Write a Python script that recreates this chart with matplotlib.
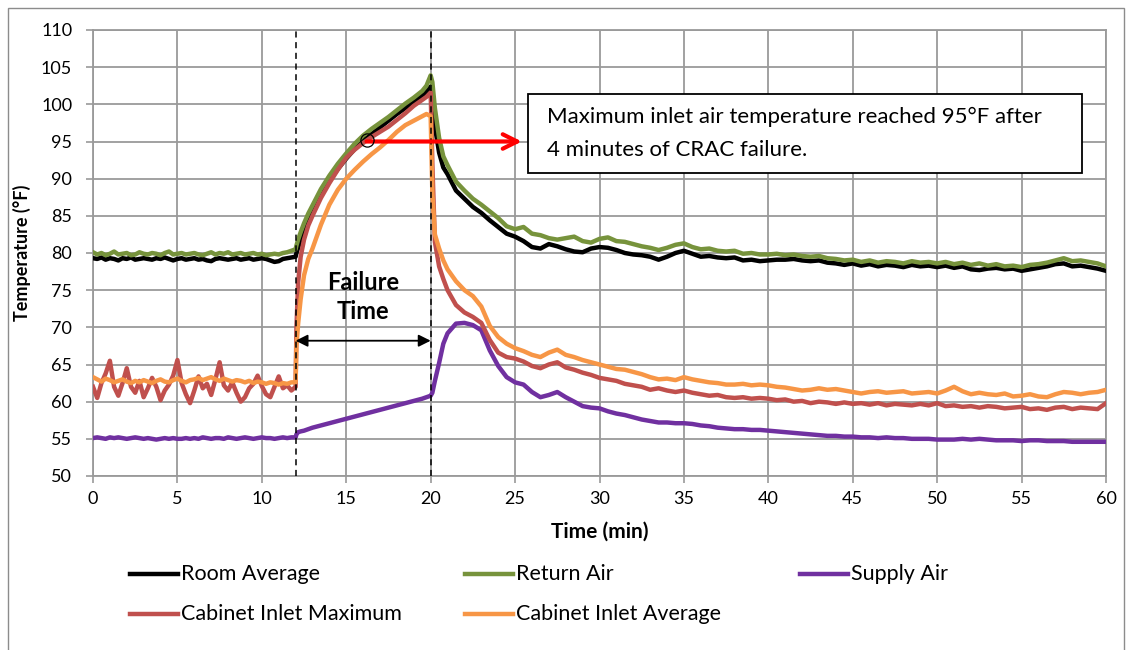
import matplotlib
matplotlib.use("Agg")
import matplotlib.pyplot as plt
import numpy as np
from matplotlib.patches import Rectangle
from matplotlib.lines import Line2D

plt.rcParams['font.family'] = ['Lato', 'DejaVu Sans']

# time axis (min): dense before the failure, extra samples around the two steps
minutes = np.concatenate([
    np.arange(0, 12, 0.25),
    [12.0, 12.05, 12.15, 12.3, 12.5, 12.75],
    np.arange(13, 19.75, 0.5),
    [19.75, 20.0, 20.1, 20.25, 20.5, 20.75],
    np.arange(21, 60.25, 0.5),
])

room_avg = [
    79.3, 79.2, 79.4, 79.1, 79.3, 79.2, 79.0, 79.3, 79.2, 79.4, 79.1, 79.2,
    79.3, 79.2, 79.1, 79.3, 79.2, 79.4, 79.2, 79.0, 79.2, 79.3, 79.1, 79.2,
    79.3, 79.1, 79.2, 79.0, 78.9, 79.2, 79.3, 79.2, 79.1, 79.2, 79.3, 79.1,
    79.2, 79.3, 79.1, 79.2, 79.3, 79.2, 79.0, 78.8, 78.9, 79.2, 79.3, 79.4,
    79.5, 80.0, 80.7, 81.9, 83.3, 84.7,
    85.8, 87.9, 89.7, 91.3, 92.7, 94.0, 95.1, 96.0, 96.9, 97.8, 98.7, 99.5, 100.3, 101.2,
    101.7, 102.4, 100.5, 97.0, 93.5, 91.5,
    90.6, 88.4, 87.3, 86.2, 85.4, 84.4, 83.5, 82.6, 82.2, 81.6,
    80.8, 80.6, 81.2, 80.9, 80.5, 80.2, 80.1, 80.6, 80.8, 80.7,
    80.4, 80.0, 79.8, 79.7, 79.5, 79.1, 79.5, 80.0, 80.3, 79.9,
    79.5, 79.6, 79.4, 79.3, 79.4, 79.0, 79.1, 78.9, 79.0, 79.1,
    79.1, 79.2, 79.0, 78.9, 79.0, 78.7, 78.6, 78.4, 78.6, 78.3,
    78.5, 78.2, 78.4, 78.3, 78.1, 78.4, 78.2, 78.3, 78.1, 78.3,
    78.0, 78.2, 77.8, 77.7, 77.9, 78.0, 77.8, 77.9, 77.6, 77.8,
    78.0, 78.2, 78.5, 78.6, 78.2, 78.3, 78.1, 77.9, 77.6,
]

return_air = [
    80.1, 79.8, 80.0, 79.7, 79.9, 80.2, 79.8, 79.9, 80.0, 79.7, 79.8, 80.1,
    79.9, 79.8, 80.0, 79.9, 79.7, 80.0, 80.2, 79.8, 79.9, 80.0, 79.8, 79.9,
    80.0, 79.8, 79.7, 79.9, 80.1, 79.8, 80.0, 79.9, 80.1, 79.8, 79.9, 80.0,
    79.8, 79.9, 80.0, 79.8, 79.9, 79.7, 79.8, 79.9, 79.8, 80.0, 80.1, 80.3,
    80.5, 81.0, 81.8, 82.8, 84.0, 85.3,
    86.4, 88.6, 90.4, 92.0, 93.4, 94.7, 95.8, 96.7, 97.5, 98.3, 99.2, 100.1, 100.9, 101.8,
    102.5, 103.9, 103.0, 99.5, 95.5, 93.0,
    91.8, 89.6, 88.4, 87.3, 86.5, 85.6, 84.7, 83.6, 83.2, 83.5,
    82.6, 82.4, 82.0, 81.8, 82.0, 82.2, 81.6, 81.4, 81.9, 82.1,
    81.6, 81.5, 81.2, 80.9, 80.7, 80.4, 80.7, 81.1, 81.3, 80.8,
    80.5, 80.6, 80.3, 80.2, 80.3, 79.9, 80.0, 79.8, 79.8, 79.9,
    79.7, 79.8, 79.6, 79.5, 79.6, 79.3, 79.2, 79.0, 79.1, 78.8,
    79.0, 78.7, 78.9, 78.8, 78.6, 78.9, 78.7, 78.8, 78.6, 78.8,
    78.5, 78.7, 78.4, 78.6, 78.3, 78.5, 78.2, 78.3, 78.1, 78.4,
    78.5, 78.7, 79.0, 79.3, 78.9, 79.0, 78.8, 78.6, 78.2,
]

supply_air = [
    55.1, 55.2, 55.1, 55.0, 55.2, 55.1, 55.2, 55.1, 55.0, 55.1, 55.2, 55.1,
    55.0, 55.1, 55.0, 54.9, 55.0, 55.1, 55.0, 55.1, 55.0, 55.0, 55.1, 55.0,
    55.1, 55.0, 55.2, 55.1, 55.0, 55.1, 55.1, 55.0, 55.2, 55.1, 55.0, 55.1,
    55.2, 55.1, 55.0, 55.1, 55.2, 55.1, 55.1, 55.0, 55.1, 55.2, 55.1, 55.2,
    55.2, 55.6, 55.9, 56.0, 56.1, 56.3,
    56.5, 56.8, 57.1, 57.4, 57.7, 58.0, 58.3, 58.6, 58.9, 59.2, 59.5, 59.8, 60.1, 60.4,
    60.6, 60.8, 61.2, 62.8, 65.2, 67.8,
    69.2, 70.5, 70.6, 70.3, 69.6, 66.9, 64.8, 63.3, 62.6, 62.3,
    61.3, 60.6, 60.9, 61.3, 60.6, 60.0, 59.4, 59.2, 59.1, 58.7,
    58.4, 58.2, 57.9, 57.6, 57.4, 57.2, 57.2, 57.1, 57.1, 57.0,
    56.8, 56.7, 56.5, 56.4, 56.3, 56.3, 56.2, 56.2, 56.1, 56.0,
    55.9, 55.8, 55.7, 55.6, 55.5, 55.4, 55.4, 55.3, 55.3, 55.2,
    55.2, 55.1, 55.2, 55.1, 55.1, 55.0, 55.0, 55.0, 54.9, 54.9,
    54.9, 55.0, 54.9, 55.0, 54.9, 54.8, 54.8, 54.8, 54.7, 54.8,
    54.8, 54.7, 54.7, 54.7, 54.6, 54.6, 54.6, 54.6, 54.6,
]

cab_inlet_max = [
    62.0, 60.5, 62.5, 63.8, 65.5, 62.0, 60.8, 62.5, 64.5, 62.0, 61.2, 62.8,
    60.6, 61.8, 63.2, 62.0, 60.2, 61.5, 62.3, 63.5, 65.6, 62.5, 61.0, 59.8,
    61.5, 63.4, 61.8, 62.4, 60.9, 63.0, 65.3, 62.2, 61.5, 62.6, 61.2, 60.0,
    60.6, 61.8, 62.4, 63.5, 62.1, 61.0, 60.6, 62.0, 63.4, 61.8, 62.2, 61.5,
    62.0, 70.0, 76.0, 79.5, 81.8, 83.7,
    85.0, 87.4, 89.4, 91.2, 92.8, 93.9, 94.8, 95.6, 96.3, 97.0, 97.9, 98.8, 99.8, 100.6,
    101.0, 101.6, 92.0, 81.5, 78.2, 76.5,
    75.0, 73.0, 72.0, 71.4, 70.6, 68.3, 66.6, 66.0, 65.8, 65.4,
    64.8, 64.5, 65.0, 65.3, 64.6, 64.3, 63.9, 63.6, 63.2, 63.0,
    62.8, 62.4, 62.2, 62.0, 61.6, 61.8, 61.5, 61.3, 61.5, 61.2,
    61.0, 60.8, 60.9, 60.6, 60.5, 60.6, 60.4, 60.5, 60.4, 60.2,
    60.3, 60.0, 60.1, 59.8, 60.0, 59.9, 59.7, 59.9, 59.7, 59.8,
    59.6, 59.8, 59.5, 59.7, 59.6, 59.5, 59.7, 59.5, 59.8, 59.4,
    59.5, 59.3, 59.4, 59.2, 59.4, 59.3, 59.1, 59.2, 59.3, 59.0,
    59.1, 58.9, 59.2, 59.3, 59.0, 59.2, 59.1, 59.0, 59.8,
]

cab_inlet_avg = [
    63.3, 63.0, 62.7, 63.1, 62.9, 62.6, 62.8, 63.0, 62.7, 62.5, 62.8, 62.6,
    62.9, 62.7, 62.5, 62.8, 63.0, 62.7, 62.6, 62.9, 63.1, 62.8, 62.6, 62.9,
    63.0, 63.2, 62.9, 63.1, 63.3, 63.0, 62.8, 63.1, 62.9, 62.7, 62.9, 62.8,
    62.6, 62.8, 62.5, 62.7, 62.6, 62.4, 62.6, 62.5, 62.3, 62.5, 62.4, 62.6,
    62.6, 67.5, 70.5, 73.8, 77.0, 79.2,
    80.6, 83.8, 86.5, 88.5, 90.0, 91.2, 92.3, 93.3, 94.2, 95.2, 96.3, 97.2, 97.8, 98.4,
    98.7, 98.4, 88.0, 82.5, 80.6, 79.0,
    77.8, 76.2, 75.0, 74.2, 72.8, 70.2, 68.7, 67.8, 67.2, 66.8,
    66.3, 66.0, 66.6, 67.0, 66.3, 66.0, 65.6, 65.3, 65.0, 64.7,
    64.4, 64.3, 64.0, 63.7, 63.3, 63.0, 63.1, 62.9, 63.3, 63.0,
    62.8, 62.6, 62.5, 62.3, 62.3, 62.4, 62.2, 62.3, 62.2, 62.0,
    61.9, 61.7, 61.5, 61.6, 61.8, 61.6, 61.7, 61.5, 61.3, 61.1,
    61.3, 61.4, 61.2, 61.3, 61.4, 61.1, 61.2, 61.3, 61.1, 61.5,
    62.0, 61.4, 61.0, 61.2, 61.0, 60.9, 61.1, 60.7, 60.8, 61.0,
    60.7, 60.6, 61.0, 61.3, 61.2, 61.0, 61.2, 61.3, 61.6,
]

series = [
    ("Room Average", room_avg, "#000000"),
    ("Return Air", return_air, "#77933C"),
    ("Supply Air", supply_air, "#7030A0"),
    ("Cabinet Inlet Maximum", cab_inlet_max, "#C0504D"),
    ("Cabinet Inlet Average", cab_inlet_avg, "#F79646"),
]

fig = plt.figure(figsize=(11.3, 6.5), dpi=100)
ax = fig.add_axes([93 / 1130, 1 - 476 / 650, 1013 / 1130, 446 / 650])

grid_c = "#9a9a9a"
ax.set_xlim(0, 60)
ax.set_ylim(50, 110)
ax.set_xticks(np.arange(0, 61, 5))
ax.set_yticks(np.arange(50, 111, 5))
ax.grid(True, color=grid_c, lw=1.3)
ax.set_axisbelow(True)
for s in ax.spines.values():
    s.set_color(grid_c)
    s.set_linewidth(1.3)
ax.tick_params(axis="y", length=5, width=1.2, color=grid_c, pad=10, labelsize=13)
ax.tick_params(axis="x", length=5, width=1.2, color=grid_c, pad=6, labelsize=13)

for name, vals, col in series:
    ax.plot(minutes, vals, color=col, lw=3.2, solid_joinstyle="round", zorder=3)

# failure window
for t in (12, 20):
    ax.axvline(t, color="black", lw=1.1, ls=(0, (4, 3)), zorder=4)
ax.annotate("", xy=(12, 68.2), xytext=(20, 68.2),
            arrowprops=dict(arrowstyle="<|-|>", color="black", lw=1.3,
                            mutation_scale=18, shrinkA=0, shrinkB=0), zorder=5)
ax.text(16, 76.0, "Failure", ha="center", va="center", fontsize=17, fontweight="bold", zorder=5)
ax.text(16, 72.1, "Time", ha="center", va="center", fontsize=17, fontweight="bold", zorder=5)

# 95F annotation
ax.annotate("", xy=(25.4, 95.0), xytext=(16.2, 95.0),
            arrowprops=dict(arrowstyle="->", color="#ff0000", lw=3,
                            mutation_scale=26, shrinkA=0, shrinkB=0), zorder=5)
ax.plot([16.2], [95.2], marker="o", ms=9.5, mfc="none", mec="black", mew=0.9, zorder=6)
ax.add_patch(Rectangle((25.75, 90.75), 32.8, 10.65, facecolor="white",
                       edgecolor="black", lw=1.3, zorder=6))
ax.text(26.9, 98.3, "Maximum inlet air temperature reached 95°F after",
        ha="left", va="center", fontsize=16, zorder=7)
ax.text(26.9, 93.85, "4 minutes of CRAC failure.",
        ha="left", va="center", fontsize=16, zorder=7)

ax.set_xlabel("Time (min)", fontsize=15, fontweight="bold", labelpad=10)
ax.set_ylabel("Temperature (°F)", fontsize=13, fontweight="bold", labelpad=7)

# legend laid out like the spreadsheet: 3 columns, 2 rows
cols_px = [130, 465, 800]
rows_px = [574, 614]
for i, (name, vals, col) in enumerate(series):
    x0 = cols_px[i % 3]
    y0 = 1 - rows_px[i // 3] / 650
    fig.add_artist(Line2D([x0 / 1130, (x0 + 48) / 1130], [y0, y0], color=col, lw=3.2))
    fig.text((x0 + 51) / 1130, y0, name, ha="left", va="center", fontsize=15.5)

# outer chart frame
fig.add_artist(Rectangle((8 / 1130, -0.01), 1116 / 1130, 1.01 - 8 / 650,
                         transform=fig.transFigure, fill=False, edgecolor="#8c8c8c", lw=1))

fig.savefig("out.png", dpi=100)
